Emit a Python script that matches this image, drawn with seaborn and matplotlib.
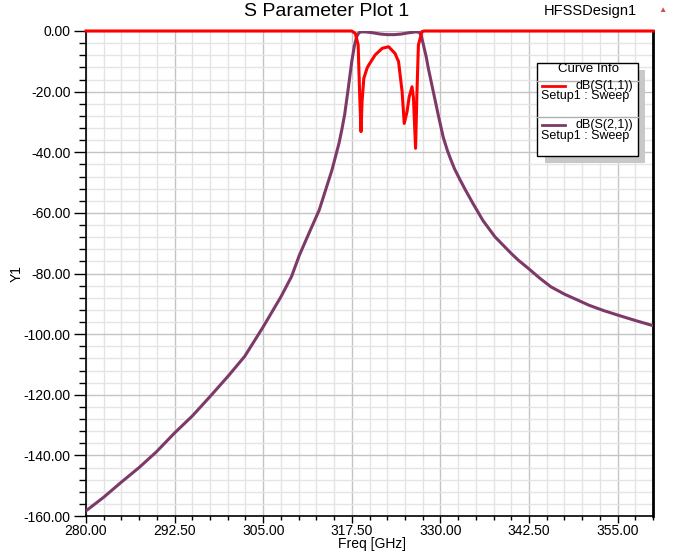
import matplotlib
matplotlib.use('Agg')
import matplotlib.pyplot as plt
import seaborn as sns
import pandas as pd
import numpy as np
from matplotlib.ticker import MultipleLocator, FixedLocator, FormatStrFormatter
from matplotlib.patches import Rectangle
from matplotlib.lines import Line2D

# dB(S(2,1))
freq_s21 = [280.0, 282.5, 284.9, 287.5, 289.9, 292.5, 295.0, 297.5, 300.0, 302.4,
            305.0, 307.5, 309.0, 310.1, 311.5, 312.9, 313.8, 314.7, 315.7, 316.1,
            316.5, 317.0, 317.5, 317.9, 318.2, 318.5, 318.8, 319.5, 320.5, 321.5,
            322.5, 323.5, 324.5, 325.5, 326.5, 327.0, 327.3, 327.6, 328.0, 328.3,
            329.0, 329.7, 330.4, 331.0, 331.4, 332.0, 332.8, 333.5, 334.6, 336.0,
            337.7, 339.0, 340.0, 341.0, 342.4, 344.0, 345.6, 347.5, 349.4, 351.0,
            353.0, 355.0, 357.5, 360.0]
db_s21 = [-158.3, -153.8, -149.0, -144.0, -138.9, -132.6, -127.0, -120.6, -114.0, -107.3,
          -97.6, -87.7, -81.0, -74.0, -66.5, -59.1, -52.5, -45.9, -37.0, -32.5,
          -27.5, -19.0, -10.0, -4.5, -1.8, -0.6, -0.3, -0.3, -0.6, -1.0,
          -1.2, -1.2, -1.0, -0.6, -0.3, -0.4, -1.5, -4.5, -8.5, -12.3,
          -20.0, -27.7, -35.0, -39.5, -42.0, -45.5, -49.2, -52.3, -56.9, -62.5,
          -67.9, -71.0, -73.4, -75.6, -78.3, -81.5, -84.4, -86.8, -88.8, -90.5,
          -92.2, -93.7, -95.5, -97.2]

# dB(S(1,1))
freq_s11 = [280.0, 317.5, 318.0, 318.4, 318.6, 318.8, 318.95, 319.2, 319.65, 319.9,
            320.8, 321.8, 322.7, 323.6, 324.1, 324.6, 324.9, 325.3, 325.6, 326.0,
            326.2, 326.5, 326.7, 326.9, 327.4, 327.7, 360.0]
db_s11 = [0.0, 0.0, -0.8, -4.6, -20.0, -33.2, -23.3, -15.6, -12.3, -11.2,
          -7.9, -5.7, -5.2, -7.4, -10.1, -20.0, -30.5, -26.6, -21.7, -18.4,
          -22.0, -38.7, -20.0, -4.6, -0.2, 0.0, 0.0]

xticks = [280.0, 292.5, 305.0, 317.5, 330.0, 342.5, 355.0]

df21 = pd.DataFrame({'freq': freq_s21, 'db': db_s21})
df11 = pd.DataFrame({'freq': freq_s11, 'db': db_s11})

W, H = 681, 554
fig = plt.figure(figsize=(W / 100, H / 100), dpi=100)
plt.rcParams['font.family'] = ['Liberation Sans', 'DejaVu Sans']

def fx(px):
    return px / W

def fy(py):
    return 1 - py / H

ax = fig.add_axes([fx(86), fy(516), fx(653) - fx(86), fy(31) - fy(516)])

red = '#ff0000'
purple = '#7d3a68'

sns.lineplot(data=df21, x='freq', y='db', ax=ax, color=purple, linewidth=2.2,
             estimator=None, sort=False, zorder=3)
sns.lineplot(data=df11, x='freq', y='db', ax=ax, color=red, linewidth=2.2,
             estimator=None, sort=False, zorder=4, clip_on=False)

ax.set_xlim(280, 360)
ax.set_ylim(-160, 0)
ax.xaxis.set_major_locator(FixedLocator(xticks))
ax.xaxis.set_minor_locator(MultipleLocator(2.5))
ax.yaxis.set_major_locator(MultipleLocator(20))
ax.yaxis.set_minor_locator(MultipleLocator(4))
ax.xaxis.set_major_formatter(FormatStrFormatter('%.2f'))
ax.yaxis.set_major_formatter(FormatStrFormatter('%.2f'))
ax.grid(which='major', color='#c4c4c4', linewidth=1.0, zorder=0)
ax.grid(which='minor', color='#e4e4e4', linewidth=1.0, zorder=0)
ax.set_axisbelow(True)
ax.tick_params(axis='y', which='major', direction='out', length=9, width=1, labelsize=10,
               colors='black', pad=2)
ax.tick_params(axis='y', which='minor', direction='out', length=5, width=1)
ax.tick_params(axis='x', which='major', direction='out', length=5, width=1, labelsize=10,
               colors='black', pad=1)
ax.tick_params(axis='x', which='minor', direction='out', length=3, width=1)
for s in ['left', 'bottom']:
    ax.spines[s].set_linewidth(1.2)
ax.spines['right'].set_linewidth(2)
ax.spines['top'].set_visible(False)

ax.set_xlabel('')
ax.set_ylabel('Y1', fontsize=10, labelpad=0)
fig.text(fx(372), fy(544), 'Freq [GHz]', fontsize=10, ha='center', va='center')

fig.text(fx(327), fy(11), 'S Parameter Plot 1', fontsize=14, ha='center', va='center')
fig.text(fx(590), fy(11), 'HFSSDesign1', fontsize=10.5, ha='center', va='center')
fig.text(fx(662), fy(10), '\u25b2', fontsize=6, ha='center', va='center', color='#d05050')

# Curve Info box
fig.patches.append(Rectangle((fx(545), fy(163)), fx(100), fy(63) - fy(156),
                             transform=fig.transFigure, facecolor='#c8c8c8',
                             edgecolor='none', zorder=5))
fig.patches.append(Rectangle((fx(537), fy(156)), fx(101), fy(63) - fy(156),
                             transform=fig.transFigure, facecolor='white',
                             edgecolor='black', linewidth=1, zorder=6))
fig.text(fx(588), fy(69), 'Curve Info', fontsize=9.5, ha='center', va='center', zorder=7)
for py in [81, 117]:
    fig.lines.append(Line2D([fx(537), fx(638)], [fy(py), fy(py)], transform=fig.transFigure,
                            color='#b0b0b0', linewidth=1, zorder=7))
for y0, col, name in [(86, red, 'dB(S(1,1))'), (125, purple, 'dB(S(2,1))')]:
    fig.lines.append(Line2D([fx(542), fx(565)], [fy(y0), fy(y0)], transform=fig.transFigure,
                            color=col, linewidth=2, zorder=7))
    fig.text(fx(633), fy(y0), name, fontsize=9, ha='right', va='center', zorder=7)
    fig.text(fx(541), fy(y0 + 10.5), 'Setup1 : Sweep', fontsize=9, ha='left', va='center',
             zorder=7)

fig.savefig('out.png', dpi=100)
